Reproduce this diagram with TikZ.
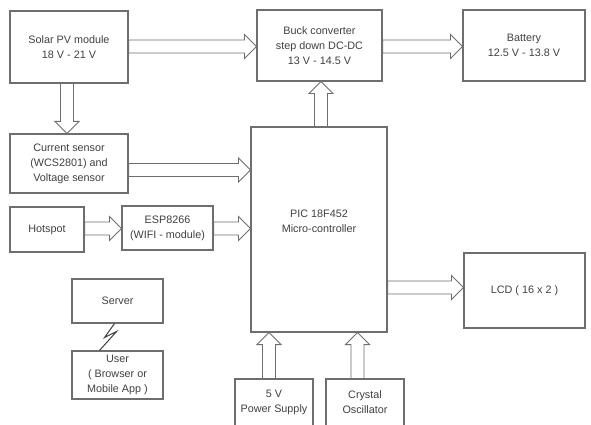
\documentclass[tikz,border=0pt]{standalone}
\usepackage{fontspec}
\setmainfont{Liberation Sans}
\usetikzlibrary{calc}
\definecolor{lnc}{HTML}{6E6E6E}
\definecolor{txc}{HTML}{404040}
\tikzset{
  box/.style={draw=lnc, line width=1.1pt, fill=white, align=center, inner sep=0pt, text=txc,
    font=\fontsize{10.8}{15}\selectfont},
  txt/.style={align=center, inner sep=0pt, text=txc, font=\fontsize{10.8}{15}\selectfont},
  blk/.style={draw=lnc, line width=0.9pt, fill=white, line join=miter},
  bolt/.style={draw=txc, line width=1pt}
}
\newcommand\rarrow[2]{\draw[blk] let \p1=(#1), \p2=(#2) in
  (\x1,\y1+6.5pt) -- (\x2-12pt,\y1+6.5pt) -- (\x2-12pt,\y1+12pt) -- (\x2,\y1)
  -- (\x2-12pt,\y1-12pt) -- (\x2-12pt,\y1-6.5pt) -- (\x1,\y1-6.5pt) -- cycle;}
\newcommand\uarrow[2]{\draw[blk] let \p1=(#1), \p2=(#2) in
  (\x1-6.5pt,\y1) -- (\x1-6.5pt,\y2-12pt) -- (\x1-12pt,\y2-12pt) -- (\x1,\y2)
  -- (\x1+12pt,\y2-12pt) -- (\x1+6.5pt,\y2-12pt) -- (\x1+6.5pt,\y1) -- cycle;}
\newcommand\darrow[2]{\draw[blk] let \p1=(#1), \p2=(#2) in
  (\x1-6.5pt,\y1) -- (\x1-6.5pt,\y2+12pt) -- (\x1-12pt,\y2+12pt) -- (\x1,\y2)
  -- (\x1+12pt,\y2+12pt) -- (\x1+6.5pt,\y2+12pt) -- (\x1+6.5pt,\y1) -- cycle;}
\begin{document}
\begin{tikzpicture}[x=1pt,y=-1pt]
\fill[white] (0,0) rectangle (591,425);
\clip (0,0) rectangle (591,425);
% boxes
\node[box, minimum width=118pt, minimum height=72pt] (solar) at (69,47) {Solar PV module\\18 V - 21 V};
\node[box, minimum width=118pt, minimum height=59pt] (current) at (69,163.5) {Current sensor\\(WCS2801) and\\Voltage sensor};
\node[box, minimum width=125pt, minimum height=71pt] (buck) at (319.5,45.5) {Buck converter\\step down DC-DC\\13 V - 14.5 V};
\node[box, minimum width=122pt, minimum height=71pt] (battery) at (524,45.5) {Battery\\12.5 V - 13.8 V};
\node[box, minimum width=74pt, minimum height=45pt] (hotspot) at (47,229.5) {Hotspot};
\node[box, minimum width=91pt, minimum height=44pt] (esp) at (167.5,228) {ESP8266\\(WIFI - module)};
\node[box, minimum width=91pt, minimum height=44pt] (server) at (117.5,301) {Server};
\node[box, minimum width=91pt, minimum height=48pt] (user) at (117.5,375) {User\\( Browser or\\Mobile App )};
\node[box, minimum width=136pt, minimum height=205pt] (pic) at (319,229.5) {};
\node[txt] (pictext) at ($(pic.center)+(0,-8)$) {PIC 18F452\\Micro-controller};
\node[box, minimum width=121pt, minimum height=75pt] (lcd) at (524.5,290.5) {LCD ( 16 x 2 )};
\node[box, minimum width=78pt, minimum height=49pt] (power) at (274,403.5) {};
\node[txt] (powertext) at (274,402) {5 V\\Power Supply};
\node[box, minimum width=78pt, minimum height=49pt] (crystal) at (365,403.5) {};
\node[txt] (crystaltext) at (365,402) {Crystal\\Oscillator};
% block arrows
\rarrow{solar.east |- 0,46.5}{buck.west |- 0,46.5}
\darrow{solar.south -| 67,0}{current.north -| 67,0}
\rarrow{current.east |- 0,170}{pic.west |- 0,170}
\rarrow{hotspot.east |- 0,228.5}{esp.west |- 0,228.5}
\rarrow{esp.east |- 0,228.5}{pic.west |- 0,228.5}
\uarrow{pic.north -| 321,0}{buck.south -| 321,0}
\rarrow{buck.east |- 0,46.5}{battery.west |- 0,46.5}
\rarrow{pic.east |- 0,287.5}{lcd.west |- 0,287.5}
\uarrow{power.north -| 269,0}{pic.south -| 269,0}
\uarrow{crystal.north -| 357.5,0}{pic.south -| 357.5,0}
% wireless link
\draw[bolt] ($(server.south)+(-3,0)$) -- ++(-10,14) -- ++(12,-6) -- ($(user.north)+(-18,0)$);
\end{tikzpicture}
\end{document}
